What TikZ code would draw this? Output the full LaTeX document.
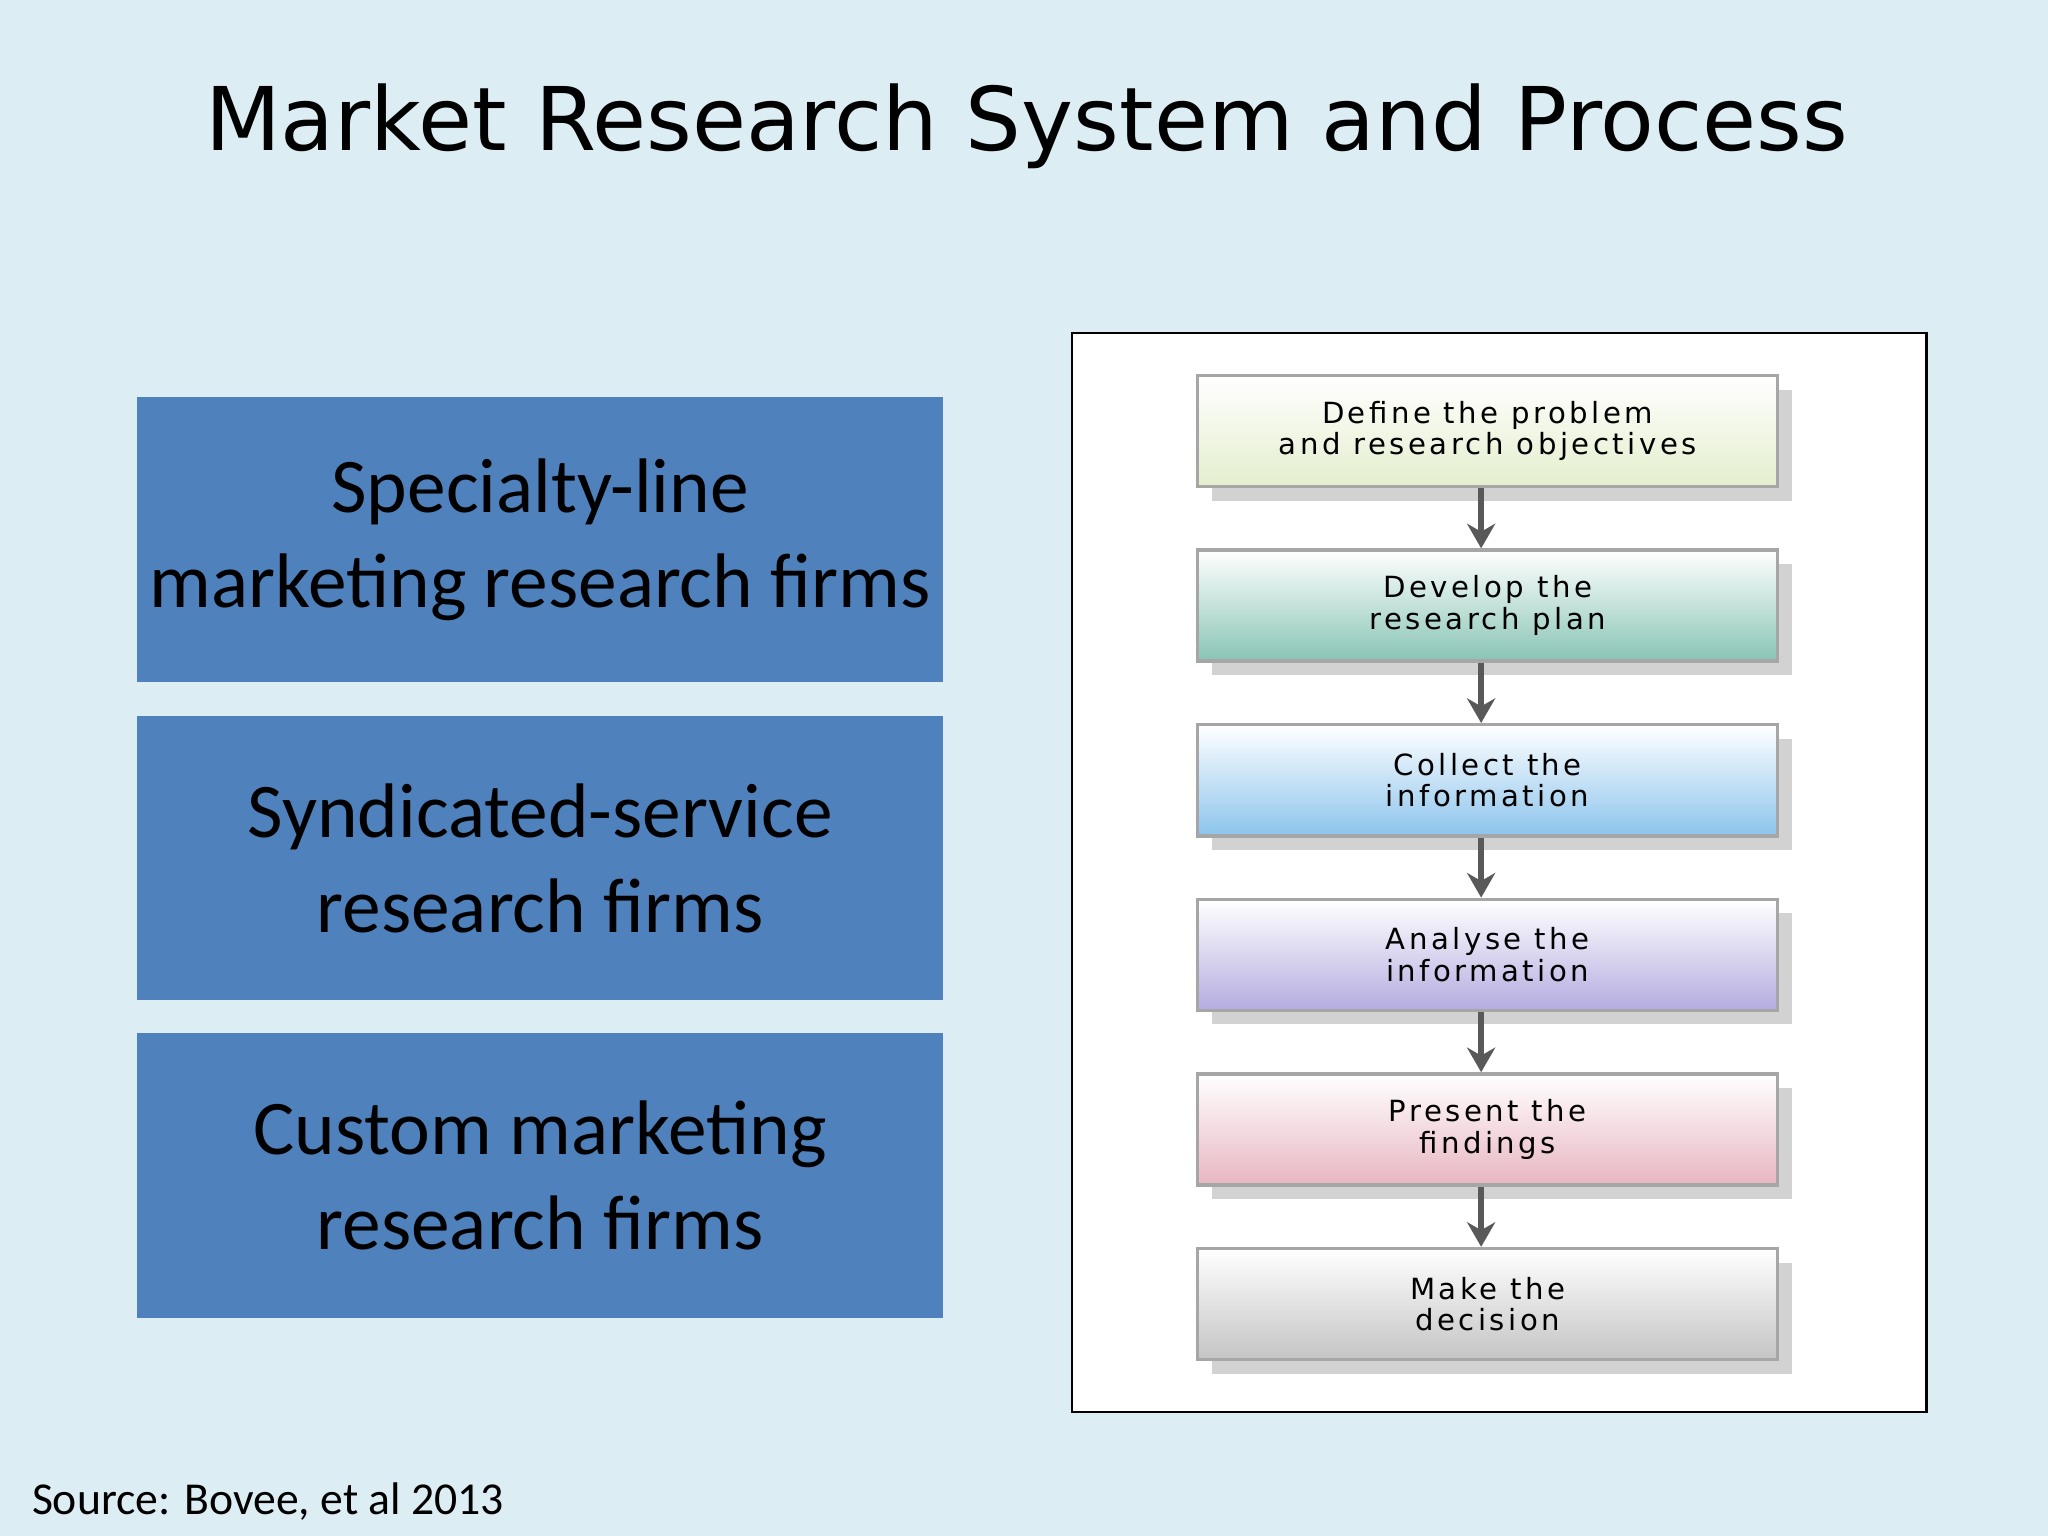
\documentclass[tikz,border=0pt]{standalone}
\usepackage{fontspec}
\setmainfont{Carlito}
\newfontfamily\titlefont{DejaVu Sans}
\newfontfamily\stagefont{DejaVu Sans}[LetterSpace=12]
\usetikzlibrary{positioning,shadows,arrows.meta}
\definecolor{slidebg}{RGB}{220,237,243}
\definecolor{firmblue}{RGB}{79,129,189}
\definecolor{stageA}{RGB}{228,238,205}
\definecolor{stageB}{RGB}{136,196,180}
\definecolor{stageC}{RGB}{140,196,236}
\definecolor{stageD}{RGB}{180,172,224}
\definecolor{stageE}{RGB}{232,182,194}
\definecolor{stageF}{RGB}{196,196,196}
\newlength{\px}
\setlength{\px}{0.013061cm}
\tikzset{
    firm/.style={fill=firmblue,minimum width=617\px,minimum height=218\px,align=center,
        font=\fontsize{22}{27}\selectfont,inner sep=0pt},
    stage/.style={draw=gray!70,line width=1pt,minimum width=444\px,minimum height=85\px,
        align=center,font=\stagefont\fontsize{8.3}{9}\selectfont,inner sep=0pt,
        drop shadow={shadow xshift=4pt,shadow yshift=-4pt,opacity=0.35}},
    flow/.style={-{Stealth[length=7pt,width=8pt]},line width=1.6pt,black!65}
}
\begin{document}
\begin{tikzpicture}[x=0.013061cm,y=-0.013061cm]
    \fill[slidebg] (0,0) rectangle (1568,1176);
    \node[font=\titlefont\fontsize{25}{30}\selectfont] (title) at (786,97) {Market Research System and Process};

    %Tipos de empresas
    \node[firm] (specialty) at (413.5,413) {Specialty-line\\marketing research firms};
    \node[firm] (syndicated) at (413.5,657) {Syndicated-service\\research firms};
    \node[firm] (custom) at (413.5,900) {Custom marketing\\research firms};
    \node[anchor=west,font=\fontsize{13}{15}\selectfont] (source) at (15,1150) {Source: Bovee, et al 2013};

    %Proceso
    \draw[black,fill=white,line width=0.6pt] (821,255) rectangle (1475,1081);
    \node[stage,top color=white,bottom color=stageA] (define) at (1139,330) {Define the problem\\and research objectives};
    \node[stage,top color=white,bottom color=stageB,below=46\px of define] (develop) {Develop the\\research plan};
    \node[stage,top color=white,bottom color=stageC,below=46\px of develop] (collect) {Collect the\\information};
    \node[stage,top color=white,bottom color=stageD,below=46\px of collect] (analyse) {Analyse the\\information};
    \node[stage,top color=white,bottom color=stageE,below=46\px of analyse] (present) {Present the\\findings};
    \node[stage,top color=white,bottom color=stageF,below=46\px of present] (decide) {Make the\\decision};
    \foreach \a/\b in {define/develop,develop/collect,collect/analyse,analyse/present,present/decide}{
        \draw[flow] ([xshift=-5\px]\a.south) -- ([xshift=-5\px]\b.north);
    }
\end{tikzpicture}
\end{document}
